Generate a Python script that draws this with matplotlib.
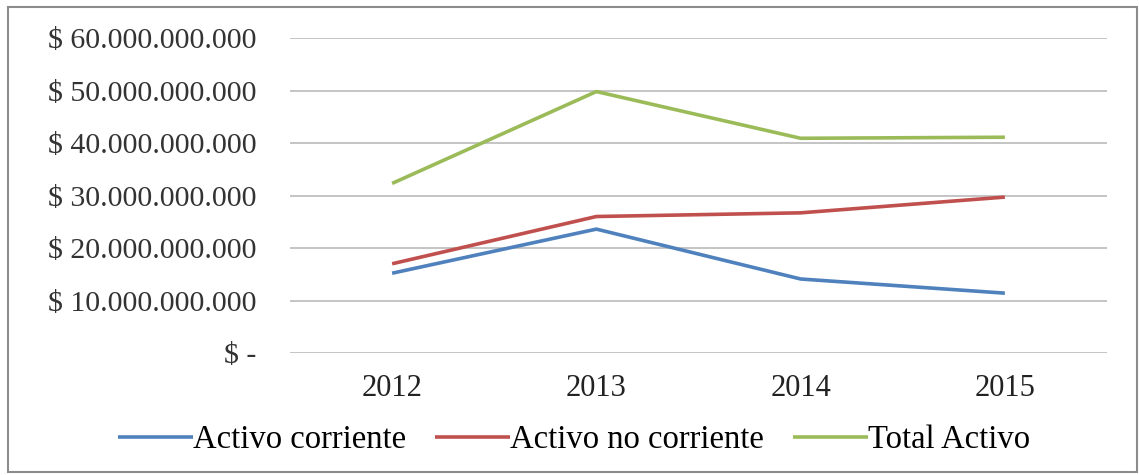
import matplotlib
matplotlib.use("Agg")
import matplotlib.pyplot as plt
from matplotlib.patches import Rectangle
from matplotlib.ticker import FuncFormatter, MultipleLocator

# Data (COP)
years = ["2012", "2013", "2014", "2015"]
activo_corriente = [15.2e9, 23.6e9, 14.1e9, 11.4e9]
activo_no_corriente = [17.0e9, 26.0e9, 26.7e9, 29.7e9]
total_activo = [32.3e9, 49.8e9, 40.9e9, 41.1e9]

series_labels = ["Activo corriente", "Activo no corriente", "Total Activo"]
series_colors = ["#4f81bd", "#c0504d", "#9bbb59"]

plt.rcParams["font.family"] = ["Liberation Serif", "DejaVu Serif"]


def peso_fmt(v, pos):
    if abs(v) < 1:
        return "$ -"
    return "$ " + f"{v:,.0f}".replace(",", ".")


fig = plt.figure(figsize=(11.39, 4.75), dpi=100)
ax = fig.add_axes([0.2546, 0.2568, 0.7173, 0.6632])

x = range(len(years))
for vals, label, color in zip([activo_corriente, activo_no_corriente, total_activo],
                              series_labels, series_colors):
    ax.plot(x, vals, color=color, linewidth=2.6, label=label, solid_capstyle="butt")

ax.set_xlim(-0.5, len(years) - 0.5)
ax.set_ylim(0, 60e9)
ax.yaxis.set_major_locator(MultipleLocator(10e9))
ax.yaxis.set_major_formatter(FuncFormatter(peso_fmt))
ax.set_xticks(list(x))
ax.set_xticklabels(years)

ax.grid(True, axis="y", color="#bfbfbf", linewidth=1.3)
ax.set_axisbelow(True)
for s in ax.spines.values():
    s.set_visible(False)
ax.tick_params(axis="y", length=0, pad=24, labelsize=21.5, labelcolor="#333333")
ax.tick_params(axis="x", length=0, pad=15, labelsize=22, labelcolor="#222222")

fig.legend(loc="center", bbox_to_anchor=(0.504, 0.074), ncol=3, frameon=False,
           fontsize=23.5, handlelength=2.3, handletextpad=0.0, columnspacing=0.9)

# outer border of the chart area
fig.patches.append(Rectangle((8 / 1139, 3 / 475), 1129 / 1139, 465 / 475,
                             transform=fig.transFigure, fill=False,
                             edgecolor="#8c8c8c", linewidth=1.5))

fig.savefig("out.png", dpi=100)
